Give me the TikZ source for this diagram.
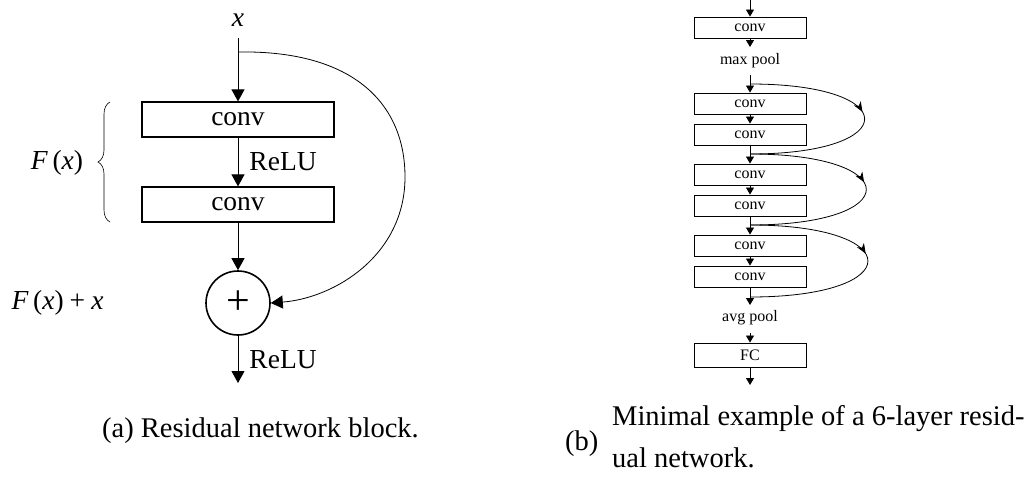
\documentclass[tikz,border=0pt]{standalone}
\usepackage{fontspec}
\setmainfont{Liberation Serif}
\usetikzlibrary{arrows.meta,decorations.pathreplacing,decorations.markings}

\begin{document}
\begin{tikzpicture}[x=1pt,y=-1pt,
  bigfont/.style={font=\fontsize{27.5}{30}\selectfont},
  smallfont/.style={font=\fontsize{16}{18}\selectfont},
  capfont/.style={font=\fontsize{28.5}{32}\selectfont},
  bigbox/.style={draw, line width=1.2pt, minimum width=192pt, minimum height=35pt, inner sep=0pt, bigfont},
  sumnode/.style={draw, circle, line width=1.6pt, minimum size=64pt, inner sep=0pt, font=\fontsize{42}{44}\selectfont},
  smallbox/.style={draw, line width=0.9pt, minimum width=112pt, minimum height=21pt, inner sep=0pt, smallfont},
  bigarrow/.style={line width=0.9pt, -{Triangle[width=13pt,length=12pt]}},
  smallarrow/.style={line width=0.8pt, -{Triangle[width=8pt,length=7pt]}},
  skipline/.style={line width=0.8pt},
  midtip/.style={postaction={decorate}, decoration={markings,
    mark=at position 0.47 with {\arrow{Stealth[length=10pt,width=8pt,inset=3pt]}}}},
  plain/.style={inner sep=0pt}
]
\useasboundingbox (0,0) rectangle (1035,482);

% ---------- residual block ----------
\node[plain, bigfont] (xlab) at (238,20) {\textit{x}};
\coordinate (xin) at (238,38);
\coordinate (split) at (238,52);
\node[bigbox] (c1) at (238,119.5) {conv};
\node[bigbox] (c2) at (238,204.5) {conv};
\node[sumnode] (plus) at (238,303) {+};
\coordinate (yout) at (238,383);

\draw[bigarrow] (xin) -- (c1);
\draw[bigarrow] (c1) -- (c2) node[midway, anchor=west, xshift=11pt, plain, bigfont] (relu1) {ReLU};
\draw[bigarrow] (c2) -- (plus);
\draw[bigarrow] (plus) -- (yout) node[midway, anchor=west, xshift=11pt, plain, bigfont] (relu2) {ReLU};

% identity shortcut
\draw[skipline, -{Triangle[width=13pt,length=12pt]}] (split)
  .. controls (355,50) and (405,105) .. (405,177)
  .. controls (405,255) and (335,298) .. (plus.east);

% F(x) brace and labels
\draw[line width=0.6pt, decorate, decoration={brace, amplitude=12pt}] (110,222) -- (110,102);
\node[plain, bigfont] (fx) at (57,163) {\textit{F}\,(\textit{x})};
\node[plain, bigfont] (fxx) at (57.5,303) {\textit{F}\,(\textit{x})\hspace{0.22em}+\hspace{0.22em}\textit{x}};

% ---------- 6-layer network ----------
\coordinate (rin) at (750,0);
\node[smallbox] (r1) at (750,27.5) {conv};
\coordinate (mp1) at (750,47);
\node[plain, smallfont] (maxpool) at (750,61) {max pool};
\coordinate (mp2) at (750,75);
\coordinate (s1) at (750,84);
\node[smallbox] (r2) at (750,103.5) {conv};
\node[smallbox] (r3) at (750,134.5) {conv};
\coordinate (s2) at (750,154);
\node[smallbox] (r4) at (750,174.5) {conv};
\node[smallbox] (r5) at (750,205.5) {conv};
\coordinate (s3) at (750,225);
\node[smallbox] (r6) at (750,245.5) {conv};
\node[smallbox] (r7) at (750,276.5) {conv};
\coordinate (s4) at (750,297);
\coordinate (ap1) at (750,305);
\node[plain, smallfont] (avgpool) at (750,318) {avg pool};
\coordinate (ap2) at (750,333);
\node[smallbox, minimum height=24pt] (fc) at (750,355) {FC};
\coordinate (rout) at (750,385);

\draw[smallarrow] (rin) -- (r1);
\draw[smallarrow] (r1) -- (mp1);
\draw[smallarrow] (mp2) -- (r2);
\draw[smallarrow] (r2) -- (r3);
\draw[smallarrow] (r3) -- (r4);
\draw[smallarrow] (r4) -- (r5);
\draw[smallarrow] (r5) -- (r6);
\draw[smallarrow] (r6) -- (r7);
\draw[smallarrow] (r7) -- (ap1);
\draw[smallarrow] (ap2) -- (fc);
\draw[smallarrow] (fc) -- (rout);

% shortcuts
\draw[skipline, midtip] (s1) to[out=0, in=0, looseness=5.6] (s2);
\draw[skipline, midtip] (s2) to[out=0, in=0, looseness=5.6] (s3);
\draw[skipline, midtip] (s3) to[out=0, in=0, looseness=5.6] (s4);

% ---------- captions ----------
\node[plain, capfont, anchor=base west] (capa) at (102,437) {(a) Residual network block.};
\node[plain, capfont, anchor=base west] (capb) at (565,450) {(b)};
\node[plain, capfont, anchor=base west] (capb1) at (612,425) {Minimal example of a 6-layer resid-};
\node[plain, capfont, anchor=base west] (capb2) at (612,467) {ual network.};
\end{tikzpicture}
\end{document}
